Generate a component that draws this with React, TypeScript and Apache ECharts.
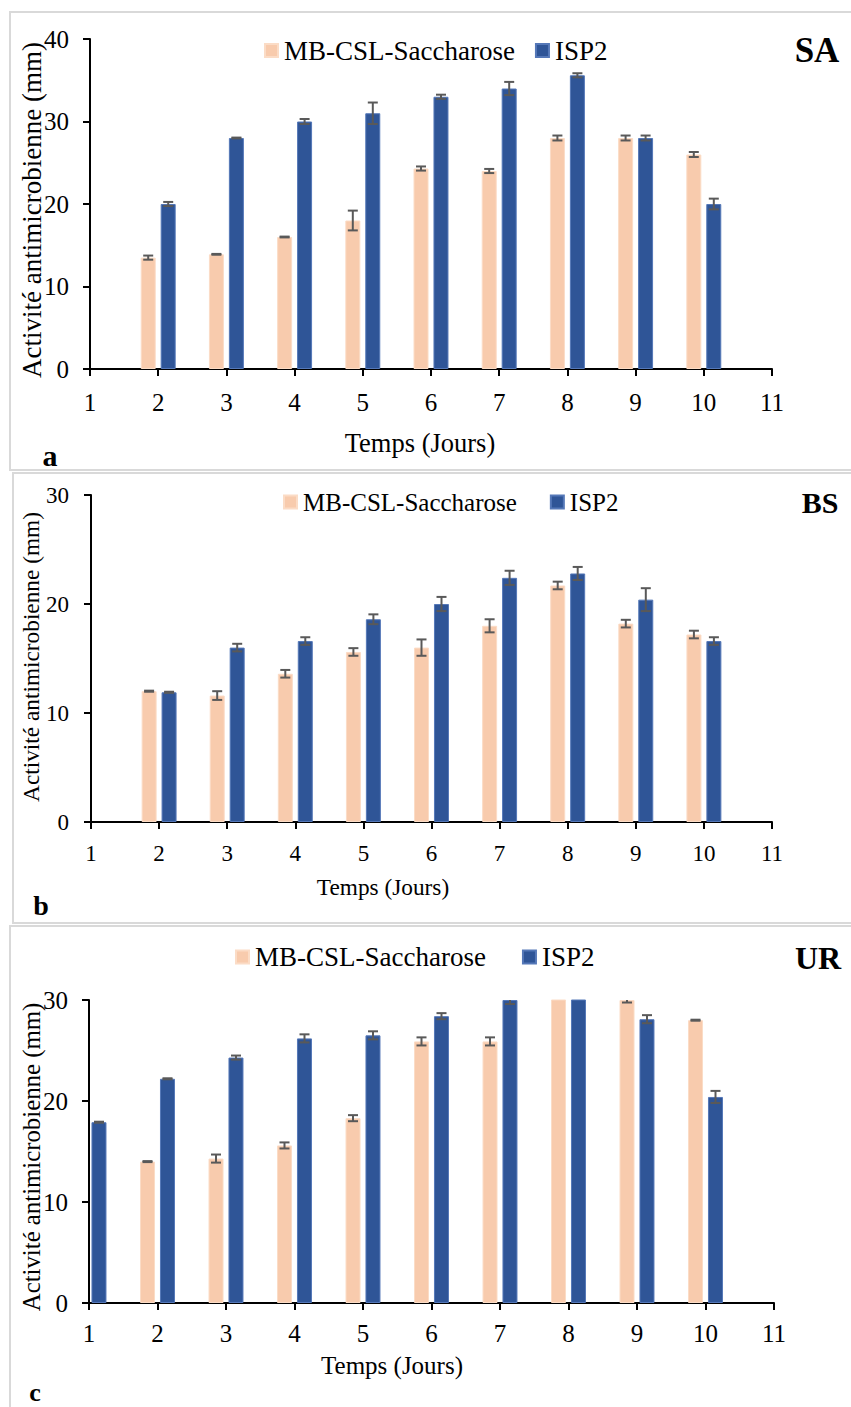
import React, { useEffect, useRef } from "react";
import * as echarts from "echarts";

// ---- Data ----
const NAME_MB = "MB-CSL-Saccharose";
const NAME_ISP = "ISP2";

const daysMB = [2, 3, 4, 5, 6, 7, 8, 9, 10];
const daysISP_ab = [2, 3, 4, 5, 6, 7, 8, 9, 10];
const daysISP_c = [1, 2, 3, 4, 5, 6, 7, 8, 9, 10];

// Panel a (SA)
const saMB = [13.5, 13.9, 16.0, 18.0, 24.3, 24.0, 28.0, 28.0, 26.0];
const saMBErr = [0.25, 0.05, 0.05, 1.2, 0.25, 0.25, 0.3, 0.3, 0.3];
const saISP = [20.0, 28.0, 30.0, 31.0, 33.0, 34.0, 35.6, 28.0, 20.0];
const saISPErr = [0.25, 0.05, 0.3, 1.3, 0.25, 0.8, 0.25, 0.3, 0.65];

// Panel b (BS)
const bsMB = [12.0, 11.6, 13.6, 15.6, 16.0, 18.0, 21.7, 18.2, 17.2];
const bsMBErr = [0.05, 0.4, 0.35, 0.35, 0.75, 0.6, 0.35, 0.35, 0.35];
const bsISP = [11.9, 16.0, 16.6, 18.6, 20.0, 22.4, 22.8, 20.4, 16.6];
const bsISPErr = [0.05, 0.35, 0.35, 0.45, 0.65, 0.65, 0.6, 1.05, 0.35];

// Panel c (UR)
const urMB = [14.0, 14.3, 15.6, 18.3, 25.9, 25.9, 31.0, 30.0, 28.0];
const urMBErr = [0.05, 0.4, 0.3, 0.3, 0.4, 0.4, 0.3, 0.25, 0.05];
const urISP = [17.9, 22.2, 24.3, 26.2, 26.5, 28.4, 30.0, 31.0, 28.1, 20.4];
const urISPErr = [0.05, 0.05, 0.2, 0.4, 0.4, 0.3, 0.4, 0.3, 0.4, 0.6];

const xMin = 1;
const xMax = 11;
const yMaxA = 40;
const yMaxB = 30;
const yMaxC = 30;

const yTitle = "Activité antimicrobienne (mm)";
const xTitle = "Temps (Jours)";

// ---- Styles ----
const FONT = "'Liberation Serif', 'Times New Roman', serif";
const PINK = "#F8CBAD";
const BLUE = "#2F5597";
const ERR = "#595959";

type Panel = {
  tag: string;
  letter: string;
  yMax: number;
  mbDays: number[];
  mb: number[];
  mbErr: number[];
  ispDays: number[];
  isp: number[];
  ispErr: number[];
  grid: { left: number; top: number; width: number; height: number };
  tickFont: number;
  xLabelMargin: number;
  yLabelMargin: number;
  legend: { left: number; top: number; font: number; gap: number };
  tagPos: [number, number, number];
  letterPos: [number, number, number];
  yTitlePos: [number, number, number];
  xTitlePos: [number, number, number];
  frame: [number, number, number, number];
};

const panels: Panel[] = [
  {
    tag: "SA",
    letter: "a",
    yMax: yMaxA,
    mbDays: daysMB,
    mb: saMB,
    mbErr: saMBErr,
    ispDays: daysISP_ab,
    isp: saISP,
    ispErr: saISPErr,
    grid: { left: 90, top: 39, width: 682, height: 330 },
    tickFont: 25,
    xLabelMargin: 33,
    yLabelMargin: 21,
    legend: { left: 264, top: 37, font: 27, gap: 20 },
    tagPos: [817, 50, 35],
    letterPos: [50, 455, 30],
    yTitlePos: [32, 210, 27],
    xTitlePos: [420, 443, 26.5],
    frame: [10, 12, 900, 458],
  },
  {
    tag: "BS",
    letter: "b",
    yMax: yMaxB,
    mbDays: daysMB,
    mb: bsMB,
    mbErr: bsMBErr,
    ispDays: daysISP_ab,
    isp: bsISP,
    ispErr: bsISPErr,
    grid: { left: 91, top: 495, width: 681, height: 327 },
    tickFont: 23,
    xLabelMargin: 31,
    yLabelMargin: 22,
    legend: { left: 283, top: 489.5, font: 25, gap: 33 },
    tagPos: [820, 502, 30],
    letterPos: [41, 905, 28],
    yTitlePos: [31, 657, 23.3],
    xTitlePos: [383, 887, 23.3],
    frame: [13, 473, 900, 450],
  },
  {
    tag: "UR",
    letter: "c",
    yMax: yMaxC,
    mbDays: daysMB,
    mb: urMB,
    mbErr: urMBErr,
    ispDays: daysISP_c,
    isp: urISP,
    ispErr: urISPErr,
    grid: { left: 89, top: 1000, width: 685, height: 303 },
    tickFont: 25,
    xLabelMargin: 30,
    yLabelMargin: 21,
    legend: { left: 235, top: 943.5, font: 27, gap: 36 },
    tagPos: [818, 958, 32],
    letterPos: [35, 1392, 26],
    yTitlePos: [31, 1157, 24.8],
    xTitlePos: [392, 1365, 25],
    frame: [10, 926, 900, 600],
  },
];

function errRender(offset: number) {
  return (params: any, api: any) => {
    const x = api.value(0);
    const y = api.value(1);
    const e = api.value(2);
    const top = api.coord([x, y + e]);
    const bot = api.coord([x, y - e]);
    const cx = top[0] + offset;
    const style = { stroke: ERR, lineWidth: 2 };
    return {
      type: "group",
      children: [
        { type: "line", shape: { x1: cx, y1: top[1], x2: cx, y2: bot[1] }, style },
        { type: "line", shape: { x1: cx - 5, y1: top[1], x2: cx + 5, y2: top[1] }, style },
        { type: "line", shape: { x1: cx - 5, y1: bot[1], x2: cx + 5, y2: bot[1] }, style },
      ],
    };
  };
}

function buildOption() {
  const grid: any[] = [];
  const xAxis: any[] = [];
  const yAxis: any[] = [];
  const series: any[] = [];
  const legend: any[] = [];
  const graphics: any[] = [];

  panels.forEach((p, i) => {
    grid.push({ ...p.grid, containLabel: false, outerBoundsMode: "none" });
    const axisLine = { show: true, onZero: true, lineStyle: { color: "#000", width: 2 } };
    const axisTick = { show: true, inside: false, length: 7, lineStyle: { color: "#000", width: 2 } };
    xAxis.push({
      type: "value",
      gridIndex: i,
      min: xMin,
      max: xMax,
      interval: 1,
      axisLine,
      axisTick,
      splitLine: { show: false },
      axisLabel: {
        color: "#000",
        fontFamily: FONT,
        fontSize: p.tickFont,
        margin: p.xLabelMargin,
        verticalAlign: "middle",
        showMinLabel: true,
        showMaxLabel: true,
      },
    });
    yAxis.push({
      type: "value",
      gridIndex: i,
      min: 0,
      max: p.yMax,
      interval: 10,
      axisLine,
      axisTick,
      splitLine: { show: false },
      axisLabel: {
        color: "#000",
        fontFamily: FONT,
        fontSize: p.tickFont,
        margin: p.yLabelMargin,
      },
    });

    series.push({
      type: "bar",
      name: NAME_MB,
      xAxisIndex: i,
      yAxisIndex: i,
      barWidth: 15,
      barGap: "33%",
      clip: true,
      itemStyle: { color: PINK, borderColor: "#FBDCC6", borderWidth: 1 },
      data: p.mbDays.map((d, k) => [d, p.mb[k]]),
    });
    series.push({
      type: "bar",
      name: NAME_ISP,
      xAxisIndex: i,
      yAxisIndex: i,
      barWidth: 15,
      barGap: "33%",
      clip: true,
      itemStyle: { color: BLUE, borderColor: "#5578B8", borderWidth: 1 },
      data: p.ispDays.map((d, k) => [d, p.isp[k]]),
    });
    series.push({
      type: "custom",
      name: "errMB" + i,
      xAxisIndex: i,
      yAxisIndex: i,
      clip: true,
      z: 5,
      encode: { x: 0, y: 1 },
      renderItem: errRender(-10),
      data: p.mbDays.map((d, k) => [d, p.mb[k], p.mbErr[k]]),
    });
    series.push({
      type: "custom",
      name: "errISP" + i,
      xAxisIndex: i,
      yAxisIndex: i,
      clip: true,
      z: 5,
      encode: { x: 0, y: 1 },
      renderItem: errRender(10),
      data: p.ispDays.map((d, k) => [d, p.isp[k], p.ispErr[k]]),
    });

    legend.push({
      left: p.legend.left,
      top: p.legend.top,
      padding: 0,
      orient: "horizontal",
      itemWidth: 13,
      itemHeight: 13,
      itemGap: p.legend.gap,
      icon: "rect",
      selectedMode: false,
      data: [NAME_MB, NAME_ISP],
      textStyle: { color: "#000", fontFamily: FONT, fontSize: p.legend.font, padding: [0, 0, 0, 1] },
    });

    graphics.push({
      type: "rect",
      z: 0,
      shape: { x: p.frame[0], y: p.frame[1], width: p.frame[2], height: p.frame[3] },
      style: { fill: "none", stroke: "#D9D9D9", lineWidth: 2 },
    });
    graphics.push({
      type: "text",
      x: p.tagPos[0],
      y: p.tagPos[1],
      style: {
        text: p.tag,
        align: "center",
        verticalAlign: "middle",
        fill: "#000",
        font: `bold ${p.tagPos[2]}px ${FONT}`,
      },
    });
    graphics.push({
      type: "text",
      x: p.letterPos[0],
      y: p.letterPos[1],
      style: {
        text: p.letter,
        align: "center",
        verticalAlign: "middle",
        fill: "#000",
        font: `bold ${p.letterPos[2]}px ${FONT}`,
      },
    });
    graphics.push({
      type: "text",
      x: p.yTitlePos[0],
      y: p.yTitlePos[1],
      rotation: Math.PI / 2,
      style: {
        text: yTitle,
        align: "center",
        verticalAlign: "middle",
        fill: "#000",
        font: `${p.yTitlePos[2]}px ${FONT}`,
      },
    });
    graphics.push({
      type: "text",
      x: p.xTitlePos[0],
      y: p.xTitlePos[1],
      style: {
        text: xTitle,
        align: "center",
        verticalAlign: "middle",
        fill: "#000",
        font: `${p.xTitlePos[2]}px ${FONT}`,
      },
    });
  });

  return {
    animation: false,
    backgroundColor: "#fff",
    textStyle: { fontFamily: FONT },
    grid,
    xAxis,
    yAxis,
    legend,
    series,
    graphic: { elements: graphics },
  };
}

export default function App() {
  const ref = useRef<HTMLDivElement>(null);
  useEffect(() => {
    document.body.style.margin = "0";
    if (!ref.current) return;
    const chart = echarts.init(ref.current, undefined, { renderer: "svg" });
    chart.setOption(buildOption() as any);
    return () => chart.dispose();
  }, []);
  return <div ref={ref} style={{ width: 851, height: 1407 }} />;
}
